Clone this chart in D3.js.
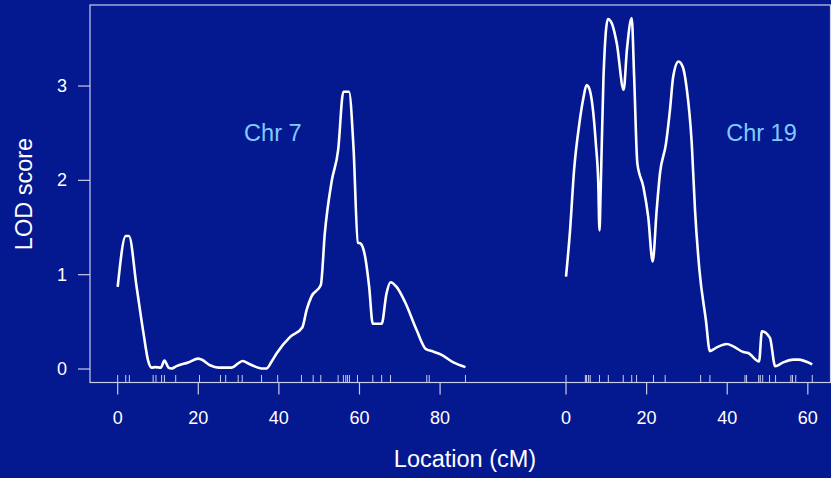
<!DOCTYPE html>
<html>
<head>
<meta charset="utf-8">
<script src="https://cdn.jsdelivr.net/npm/d3@7"></script>
<style>
  body { margin: 0; background: #041890; }
  svg { display: block; }
</style>
</head>
<body>
<div id="chart"></div>
<script>
// LOD profile, chr 7 (cM, LOD)
var chr7Pos = [0, 2.0, 2.8, 4.7, 6.4, 7.6, 8.4, 9.3, 10.7, 11.6, 12.6, 13.4, 14.6, 17.5, 20.0, 20.8, 22.9, 25.0, 28.3, 29.9, 31.0, 32.8, 36.1, 36.9, 38.2, 39.5, 42.8, 45.8, 46.9, 48.1, 50.4, 51.4, 53.1, 54.7, 56.0, 57.4, 58.5, 59.6, 60.3, 61.4, 62.4, 63.3, 65.5, 66.7, 67.7, 69.2, 71.3, 74.2, 76.5, 77.9, 80.4, 83.3, 86.3];
var chr7Lod = [0.87, 1.41, 1.41, 0.87, 0.38, 0.08, 0.015, 0.02, 0.015, 0.09, 0.015, 0.005, 0.03, 0.07, 0.11, 0.10, 0.04, 0.015, 0.015, 0.06, 0.085, 0.05, 0.005, 0.005, 0.08, 0.17, 0.34, 0.44, 0.63, 0.77, 0.89, 1.44, 1.99, 2.32, 2.94, 2.94, 2.36, 1.34, 1.33, 1.19, 0.87, 0.48, 0.48, 0.80, 0.92, 0.87, 0.71, 0.41, 0.21, 0.19, 0.15, 0.07, 0.02];

// LOD profile, chr 19
var chr19Pos = [0, 1.0, 2.0, 3.3, 4.3, 5.1, 5.6, 6.6, 7.4, 8.0, 8.3, 8.6, 9.3, 10.4, 11.4, 12.6, 14.3, 15.1, 16.3, 16.9, 17.7, 19.2, 20.4, 21.5, 22.5, 23.3, 24.8, 25.8, 26.6, 27.9, 29.0, 29.9, 31.2, 32.0, 33.1, 34.7, 35.7, 37.4, 39.9, 41.5, 44.0, 45.2, 47.9, 48.6, 50.6, 51.9, 53.9, 56.4, 57.6, 61.1];
var chr19Lod = [0.98, 1.47, 2.11, 2.60, 2.87, 3.01, 2.99, 2.78, 2.39, 1.97, 1.47, 1.90, 3.10, 3.71, 3.66, 3.45, 2.96, 3.38, 3.72, 3.10, 2.18, 1.93, 1.61, 1.14, 1.69, 2.07, 2.39, 2.75, 3.10, 3.26, 3.20, 2.99, 2.39, 1.69, 1.05, 0.52, 0.19, 0.23, 0.265, 0.24, 0.18, 0.17, 0.08, 0.40, 0.33, 0.03, 0.07, 0.10, 0.10, 0.05];

// marker positions (rug)
var chr7Markers = [0, 2.0, 2.9, 8.8, 9.5, 10.9, 11.6, 14.4, 20.3, 25.5, 26.8, 29.9, 30.9, 35.7, 39.7, 45.6, 48.5, 50.4, 54.7, 56.0, 56.6, 57.0, 57.5, 59.5, 63.3, 65.5, 67.7, 76.7, 77.3, 86.3];
var chr19Markers = [0, 4.8, 5.1, 5.6, 6.0, 8.3, 10.5, 14.2, 16.3, 17.5, 21.7, 24.6, 33.4, 35.7, 44.4, 44.8, 47.8, 48.2, 48.8, 50.5, 52.0, 55.8, 56.2, 57.0, 61.1];

var chrNames = ["Chr 7", "Chr 19"];
var chrOffsets = [0, 111.25];
var chr7Ticks = [0, 20, 40, 60, 80];
var chr19Ticks = [0, 20, 40, 60];
var lodTicks = [0, 1, 2, 3];

var W = 831, H = 478;
var plotL = 90, plotR = 830.5, plotT = 5, plotB = 382.5;
var font = "'Liberation Sans', Arial, Helvetica, sans-serif";
var axisCol = "#c9cde8";

var svg = d3.select("#chart").append("svg")
  .attr("width", W).attr("height", H);

svg.append("rect").attr("width", W).attr("height", H).attr("fill", "#041890");

var x = d3.scaleLinear().domain([-6.87, 177]).range([plotL, 831]);
var y = d3.scaleLinear().domain([-0.143, 3.859]).range([plotB, plotT]);

// box
svg.append("rect")
  .attr("x", plotL).attr("y", plotT)
  .attr("width", plotR - plotL).attr("height", plotB - plotT)
  .attr("fill", "none").attr("stroke", axisCol).attr("stroke-width", 1.2);

// y axis
var yAxis = svg.append("g");
yAxis.selectAll("line").data(lodTicks).enter().append("line")
  .attr("x1", plotL - 12).attr("x2", plotL)
  .attr("y1", function(d){ return y(d) }).attr("y2", function(d){ return y(d) })
  .attr("stroke", axisCol).attr("stroke-width", 1.2);
yAxis.selectAll("text").data(lodTicks).enter().append("text")
  .attr("x", 67).attr("y", function(d){ return y(d) + 6 })
  .attr("text-anchor", "end")
  .attr("fill", "white").attr("font-family", font).attr("font-size", 18)
  .text(function(d){ return d });

// x axes, one per chromosome
var chrData = [
  {name: chrNames[0], off: chrOffsets[0], ticks: chr7Ticks, markers: chr7Markers, pos: chr7Pos, lod: chr7Lod, labelX: 38.5},
  {name: chrNames[1], off: chrOffsets[1], ticks: chr19Ticks, markers: chr19Markers, pos: chr19Pos, lod: chr19Lod, labelX: 48.5}
];

var line = d3.line()
  .curve(d3.curveMonotoneX)
  .x(function(d){ return x(d[0]) })
  .y(function(d){ return y(d[1]) });

chrData.forEach(function(c) {
  var g = svg.append("g");

  // major ticks
  g.selectAll(".tick").data(c.ticks).enter().append("line")
    .attr("x1", function(d){ return x(d + c.off) }).attr("x2", function(d){ return x(d + c.off) })
    .attr("y1", plotB).attr("y2", plotB + 12)
    .attr("stroke", axisCol).attr("stroke-width", 1.2);
  g.selectAll(".lab").data(c.ticks).enter().append("text")
    .attr("x", function(d){ return x(d + c.off) }).attr("y", 423.5)
    .attr("text-anchor", "middle")
    .attr("fill", "white").attr("font-family", font).attr("font-size", 18)
    .text(function(d){ return d });

  // marker rug
  g.selectAll(".mk").data(c.markers).enter().append("line")
    .attr("x1", function(d){ return x(d + c.off) }).attr("x2", function(d){ return x(d + c.off) })
    .attr("y1", plotB - 7.5).attr("y2", plotB)
    .attr("stroke", axisCol).attr("stroke-width", 1);

  // LOD curve
  var pts = c.pos.map(function(p, i){ return [p + c.off, c.lod[i]] });
  g.append("path").datum(pts)
    .attr("d", line)
    .attr("fill", "none").attr("stroke", "white")
    .attr("stroke-width", 2.6).attr("stroke-linejoin", "round");

  // chromosome label
  g.append("text")
    .attr("x", x(c.labelX + c.off)).attr("y", 141)
    .attr("text-anchor", "middle")
    .attr("fill", "#7fcaff").attr("font-family", font).attr("font-size", 23.5)
    .text(c.name);
});

// axis titles
svg.append("text")
  .attr("x", 465).attr("y", 467)
  .attr("text-anchor", "middle")
  .attr("fill", "white").attr("font-family", font).attr("font-size", 23.5)
  .text("Location (cM)");

svg.append("text")
  .attr("transform", "translate(31.5,194) rotate(-90)")
  .attr("text-anchor", "middle")
  .attr("fill", "white").attr("font-family", font).attr("font-size", 23.5)
  .text("LOD score");
</script>
</body>
</html>
